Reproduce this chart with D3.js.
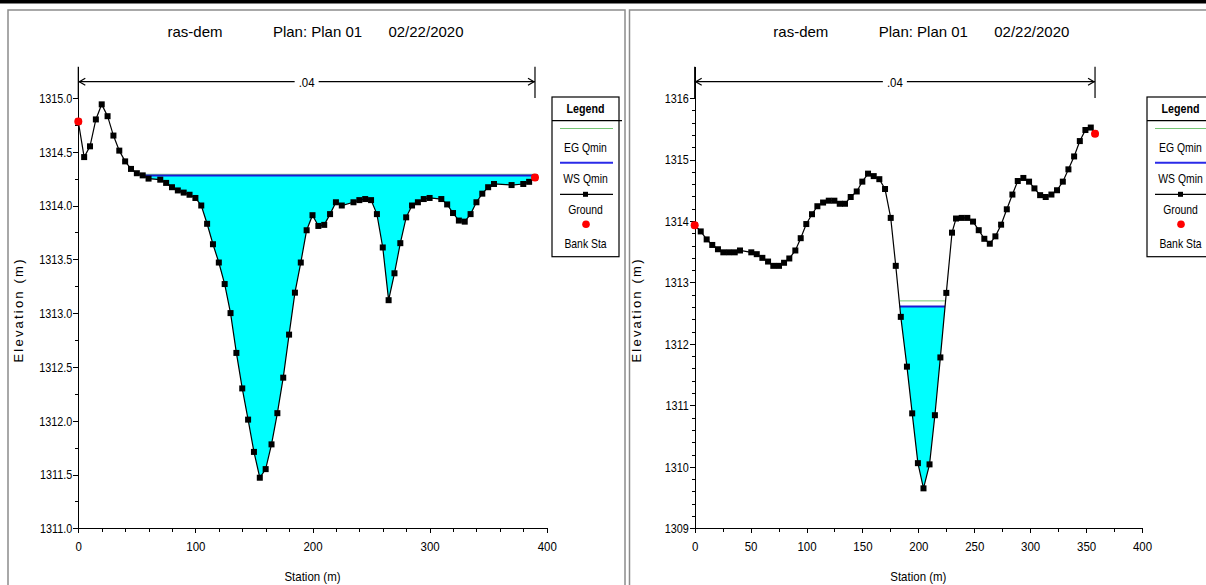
<!DOCTYPE html>
<html lang="en">
<head>
<meta charset="utf-8">
<title>ras-dem cross sections</title>
<script src="https://cdn.jsdelivr.net/npm/d3@7/dist/d3.min.js"></script>
<style>
body { margin: 0; background: #fff; }
svg text { font-family: "Liberation Sans", Arial, sans-serif; fill: #000; }
.axis path, .axis line { stroke: #000; stroke-width: 1px; shape-rendering: crispEdges; }
.axis text { font-size: 13.5px; }
</style>
</head>
<body>
<script>
var w = 1206, h = 585;

// left cross section (station m, elevation m)
var leftStation = [0, 5, 10, 15, 20, 25, 30, 35, 40, 45, 50, 55, 60, 70, 75, 80, 85, 90, 95, 100,
  105, 110, 115, 120, 125, 130, 135, 140, 145, 150, 155, 160, 165, 170, 175, 180, 185, 190, 195, 200,
  205, 210, 215, 220, 225, 235, 240, 245, 250, 255, 260, 265, 270, 275, 280, 285, 290, 295, 300,
  310, 315, 320, 325, 330, 335, 340, 345, 350, 355, 370, 380, 385, 390];
var leftElev = [1314.78, 1314.45, 1314.55, 1314.80, 1314.94, 1314.83, 1314.65, 1314.51, 1314.41, 1314.34,
  1314.30, 1314.28, 1314.25, 1314.24, 1314.21, 1314.17, 1314.14, 1314.12, 1314.10, 1314.07,
  1314.00, 1313.83, 1313.64, 1313.47, 1313.27, 1313.00, 1312.63, 1312.30, 1312.01, 1311.71,
  1311.47, 1311.55, 1311.78, 1312.07, 1312.40, 1312.80, 1313.19, 1313.47, 1313.77, 1313.91,
  1313.81, 1313.82, 1313.92, 1314.03, 1314.00, 1314.03, 1314.05, 1314.06, 1314.05, 1313.92,
  1313.61, 1313.12, 1313.37, 1313.65, 1313.89, 1314.00, 1314.03, 1314.06, 1314.07,
  1314.06, 1314.01, 1313.93, 1313.86, 1313.85, 1313.92, 1314.03, 1314.11, 1314.17, 1314.20,
  1314.19, 1314.20, 1314.22, 1314.26];
var leftBankSta = [0, 390];
var leftBankElev = [1314.78, 1314.26];
var leftWS = 1314.28;
var leftEG = 1314.29;
var leftXTicks = [0, 100, 200, 300, 400];
var leftXMinor = d3.range(0, 401, 20);
var leftYTicks = [1311.0, 1311.5, 1312.0, 1312.5, 1313.0, 1313.5, 1314.0, 1314.5, 1315.0];
var leftYMinor = d3.range(1311, 1315.01, 0.25);

// right cross section
var rightStation = [0, 5.4, 10.7, 15.7, 20.8, 25.6, 30.7, 35.8, 40.5, 50.6, 55.5, 60.5, 65.6, 70.3,
  75.4, 79.9, 84.6, 90, 94.8, 99.8, 104.9, 109.7, 114.8, 119.9, 124.9, 129.7, 134.4, 139.5, 144.9,
  149.9, 155, 160.1, 165.1, 170.2, 175.3, 179.8, 184.3, 189.8, 194.5, 199.6, 204.6, 210, 214.8,
  219.7, 225, 230.1, 233.7, 238.8, 243.8, 248.9, 254, 259, 263.9, 268.9, 274, 279.1, 284.1, 288.9,
  293.9, 299, 303.8, 308.9, 313.9, 319, 324, 329.2, 334.2, 339.3, 344.4, 349.4, 354.2, 358];
var rightElev = [1313.93, 1313.83, 1313.70, 1313.61, 1313.54, 1313.49, 1313.49, 1313.49, 1313.52,
  1313.49, 1313.46, 1313.40, 1313.34, 1313.27, 1313.27, 1313.32, 1313.39, 1313.52, 1313.72, 1313.95,
  1314.11, 1314.24, 1314.30, 1314.33, 1314.33, 1314.28, 1314.28, 1314.39, 1314.48, 1314.64, 1314.77,
  1314.73, 1314.68, 1314.52, 1314.05, 1313.27, 1312.44, 1311.63, 1310.87, 1310.06, 1309.65, 1310.04,
  1310.84, 1311.78, 1312.83, 1313.81, 1314.04, 1314.05, 1314.05, 1313.99, 1313.85, 1313.71, 1313.63,
  1313.75, 1313.94, 1314.19, 1314.43, 1314.65, 1314.70, 1314.64, 1314.53, 1314.42, 1314.39, 1314.43,
  1314.50, 1314.64, 1314.84, 1315.05, 1315.30, 1315.48, 1315.52, 1315.42];
var rightBankSta = [0, 358];
var rightBankElev = [1313.93, 1315.42];
var rightWS = 1312.61;
var rightEG = 1312.70;
var rightXTicks = [0, 50, 100, 150, 200, 250, 300, 350, 400];
var rightXMinor = d3.range(0, 401, 25);
var rightYTicks = [1309, 1310, 1311, 1312, 1313, 1314, 1315, 1316];
var rightYMinor = d3.range(1309, 1316.01, 0.2);

var titleParts = ["ras-dem", "Plan: Plan 01", "02/22/2020"];
var legendLabels = ["EG Qmin", "WS Qmin", "Ground", "Bank Sta"];
var nValue = ".04";

var svg = d3.select("body").append("svg")
  .attr("width", w)
  .attr("height", h);

svg.append("rect").attr("x", 0).attr("y", 0).attr("width", w).attr("height", 3.5).attr("fill", "#000");

function squeeze(sel, f) {
  sel.each(function() {
    var len = this.getComputedTextLength();
    d3.select(this).attr("textLength", len * f).attr("lengthAdjust", "spacingAndGlyphs");
  });
}

// ground clamped to the water level, with the crossing points put in
function wetPoints(sta, elev, level) {
  var out = [];
  for (var i = 0; i < sta.length; i++) {
    if (i > 0) {
      var a = elev[i - 1] - level, b = elev[i] - level;
      if ((a > 0 && b < 0) || (a < 0 && b > 0)) {
        out.push([sta[i - 1] + (sta[i] - sta[i - 1]) * a / (a - b), level]);
      }
    }
    out.push([sta[i], Math.min(elev[i], level)]);
  }
  return out;
}

function wetEnds(sta, elev, level) {
  var wet = wetPoints(sta, elev, level).filter(function(d, i, arr) {
    return d[1] < level || (i > 0 && arr[i - 1][1] < level) || (i < arr.length - 1 && arr[i + 1][1] < level);
  });
  return d3.extent(wet, function(d) { return d[0]; });
}

function drawPanel(p) {
  var g = svg.append("g");
  var top = 66.7, bottom = 528.3;

  g.append("rect")
    .attr("x", p.frame[0]).attr("y", 10)
    .attr("width", p.frame[1] - p.frame[0]).attr("height", 600)
    .attr("fill", "none").attr("stroke", "#8c8c8c").attr("stroke-width", 1.5);

  var x = d3.scaleLinear().domain([0, 400]).range([p.left, p.right]);
  var y = d3.scaleLinear().domain([p.yMin, p.yTop]).range([bottom, top]);

  var pts = p.sta.map(function(s, i) { return [s, p.elev[i]]; });

  // water
  g.append("path")
    .datum(wetPoints(p.sta, p.elev, p.ws))
    .attr("fill", "#00ffff")
    .attr("d", d3.area()
      .x(function(d) { return x(d[0]); })
      .y0(function(d) { return y(d[1]); })
      .y1(y(p.ws)));

  var ends = wetEnds(p.sta, p.elev, p.ws);
  g.append("line")
    .attr("x1", x(ends[0])).attr("x2", x(ends[1]))
    .attr("y1", y(p.eg)).attr("y2", y(p.eg))
    .attr("stroke", "#74c474").attr("stroke-width", 1);
  g.append("line")
    .attr("x1", x(ends[0])).attr("x2", x(ends[1]))
    .attr("y1", y(p.ws)).attr("y2", y(p.ws))
    .attr("stroke", "#1a1ad6").attr("stroke-width", 2);

  // axes
  g.append("g").attr("class", "axis")
    .attr("transform", "translate(0," + bottom + ")")
    .call(d3.axisBottom(x).tickValues(p.xMinor).tickSize(4).tickSizeOuter(0).tickFormat(""));
  var xa = g.append("g").attr("class", "axis")
    .attr("transform", "translate(0," + bottom + ")")
    .call(d3.axisBottom(x).tickValues(p.xTicks).tickSize(5).tickSizeOuter(0).tickPadding(8));
  squeeze(xa.selectAll("text"), 0.85);

  g.append("g").attr("class", "axis")
    .attr("transform", "translate(" + p.left + ",0)")
    .call(d3.axisLeft(y).tickValues(p.yMinor).tickSize(3).tickSizeOuter(0).tickFormat(""));
  var ya = g.append("g").attr("class", "axis")
    .attr("transform", "translate(" + p.left + ",0)")
    .call(d3.axisLeft(y).tickValues(p.yTicks).tickSize(5).tickSizeOuter(0).tickPadding(1)
      .tickFormat(d3.format(p.yFmt)));
  squeeze(ya.selectAll("text"), 0.8);

  // ground
  g.append("path")
    .datum(pts)
    .attr("fill", "none").attr("stroke", "#000").attr("stroke-width", 1.2)
    .attr("d", d3.line().x(function(d) { return x(d[0]); }).y(function(d) { return y(d[1]); }));
  g.selectAll("rect.pt")
    .data(pts)
    .enter().append("rect")
    .attr("class", "pt")
    .attr("x", function(d) { return x(d[0]) - 3; })
    .attr("y", function(d) { return y(d[1]) - 3; })
    .attr("width", 6).attr("height", 6)
    .attr("fill", "#000");
  g.selectAll("circle.bank")
    .data(p.bankSta)
    .enter().append("circle")
    .attr("class", "bank")
    .attr("cx", function(d) { return x(d); })
    .attr("cy", function(d, i) { return y(p.bankElev[i]); })
    .attr("r", 4)
    .attr("fill", "#ff0000");

  // manning's n arrow between the banks
  var ay = 81.7;
  var xl = x(p.bankSta[0]), xr = x(p.bankSta[1]), mid = (xl + xr) / 2;
  var ar = g.append("g").attr("stroke", "#000").attr("fill", "none").attr("stroke-width", 1.2);
  ar.append("line").attr("x1", xl).attr("x2", xl).attr("y1", top).attr("y2", 98);
  ar.append("line").attr("x1", xr).attr("x2", xr).attr("y1", top).attr("y2", 98);
  ar.append("line").attr("x1", xl).attr("x2", mid - 12).attr("y1", ay).attr("y2", ay);
  ar.append("line").attr("x1", mid + 12).attr("x2", xr).attr("y1", ay).attr("y2", ay);
  ar.append("path").attr("d", "M" + (xl + 7) + "," + (ay - 3.5) + "L" + (xl + 1) + "," + ay + "L" + (xl + 7) + "," + (ay + 3.5));
  ar.append("path").attr("d", "M" + (xr - 7) + "," + (ay - 3.5) + "L" + (xr - 1) + "," + ay + "L" + (xr - 7) + "," + (ay + 3.5));
  var nt = g.append("text").attr("x", mid).attr("y", ay + 5).attr("text-anchor", "middle")
    .attr("font-size", "13.5px").text(nValue);
  squeeze(nt, 0.85);

  // title
  var c = (p.left + p.right) / 2;
  var tc = c + 3;
  var tg = g.append("g").attr("font-size", "15px");
  tg.append("text").attr("x", tc - 148).attr("y", 37).attr("text-anchor", "start").text(titleParts[0]);
  tg.append("text").attr("x", tc + 2).attr("y", 37).attr("text-anchor", "middle").text(titleParts[1]);
  tg.append("text").attr("x", tc + 148).attr("y", 37).attr("text-anchor", "end").text(titleParts[2]);

  // axis titles
  var st = g.append("text").attr("x", c).attr("y", 581).attr("text-anchor", "middle")
    .attr("font-size", "13.5px").text("Station (m)");
  squeeze(st, 0.85);
  g.append("text")
    .attr("transform", "translate(" + p.yLabelX + ",311) rotate(-90)")
    .attr("text-anchor", "middle")
    .attr("font-size", "13px")
    .attr("textLength", 103).attr("lengthAdjust", "spacing")
    .text("Elevation (m)");

  // legend
  var lx = p.legendX, lw = 67, lc = lx + lw / 2;
  var lg = g.append("g");
  lg.append("rect").attr("x", lx).attr("y", 97).attr("width", lw).attr("height", 159.7)
    .attr("fill", "#fff").attr("stroke", "#000").attr("stroke-width", 1.2);
  lg.append("line").attr("x1", lx).attr("x2", lx + lw + 3).attr("y1", 120.7).attr("y2", 120.7)
    .attr("stroke", "#000").attr("stroke-width", 1.2);
  var lt = lg.append("text").attr("x", lc).attr("y", 113).attr("text-anchor", "middle")
    .attr("font-size", "13px").attr("font-weight", "bold").text("Legend");
  squeeze(lt, 0.82);
  lg.append("line").attr("x1", lx + 8).attr("x2", lx + lw - 6).attr("y1", 128.5).attr("y2", 128.5)
    .attr("stroke", "#74c474").attr("stroke-width", 1);
  lg.append("line").attr("x1", lx + 8).attr("x2", lx + lw - 6).attr("y1", 162.7).attr("y2", 162.7)
    .attr("stroke", "#2a2ae8").attr("stroke-width", 2);
  lg.append("line").attr("x1", lx + 8).attr("x2", lx + lw - 6).attr("y1", 194.3).attr("y2", 194.3)
    .attr("stroke", "#000").attr("stroke-width", 1.2);
  lg.append("rect").attr("x", lc - 2.5).attr("y", 191.8).attr("width", 5).attr("height", 5).attr("fill", "#000");
  lg.append("circle").attr("cx", lc + 0.5).attr("cy", 224.3).attr("r", 3.8).attr("fill", "#ff0000");
  var labY = [152, 183, 214, 248];
  var lts = lg.selectAll("text.lab")
    .data(legendLabels)
    .enter().append("text")
    .attr("class", "lab")
    .attr("x", lc)
    .attr("y", function(d, i) { return labY[i]; })
    .attr("text-anchor", "middle")
    .attr("font-size", "13px")
    .text(function(d) { return d; });
  squeeze(lts, 0.8);
}

drawPanel({
  id: "L", frame: [8, 625], left: 78.3, right: 546.7,
  yMin: 1311, yTop: 1315.29, yFmt: ".1f",
  sta: leftStation, elev: leftElev, bankSta: leftBankSta, bankElev: leftBankElev,
  ws: leftWS, eg: leftEG,
  xTicks: leftXTicks, xMinor: leftXMinor, yTicks: leftYTicks, yMinor: leftYMinor,
  yLabelX: 23, legendX: 552
});

drawPanel({
  id: "R", frame: [629.5, 1230], left: 694.7, right: 1142,
  yMin: 1309, yTop: 1316.51, yFmt: "d",
  sta: rightStation, elev: rightElev, bankSta: rightBankSta, bankElev: rightBankElev,
  ws: rightWS, eg: rightEG,
  xTicks: rightXTicks, xMinor: rightXMinor, yTicks: rightYTicks, yMinor: rightYMinor,
  yLabelX: 641, legendX: 1147
});
</script>
</body>
</html>
